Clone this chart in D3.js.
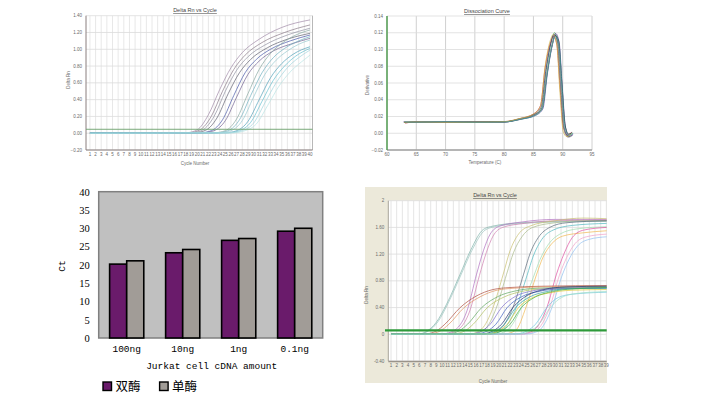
<!DOCTYPE html>
<html>
<head>
<meta charset="utf-8">
<script src="https://cdn.jsdelivr.net/npm/d3@7"></script>
<style>
  body { margin: 0; background: #fff; }
  svg { display: block; }
  .small { font-family: "Liberation Sans", Arial, sans-serif; fill: #6a6a6a; }
</style>
</head>
<body>
<svg id="chart" width="707" height="397"></svg>
<script>
// ---- bar chart (Ct vs cDNA amount) ----
const amounts = ["100ng", "10ng", "1ng", "0.1ng"];
const seriesNames = ["双酶", "单酶"];
const ctDouble = [20.2, 23.3, 26.7, 29.2];
const ctSingle = [21.1, 24.2, 27.2, 30.0];
const ctTicks = [0, 5, 10, 15, 20, 25, 30, 35, 40];

// ---- top-left amplification plot ----
const ampACycles = d3.range(1, 41);
const ampAYTicks = [-0.2, 0, 0.2, 0.4, 0.6, 0.8, 1.0, 1.2, 1.4];
const ampAThreshold = 0.047;
const ampACurves = [
  [[1,0],[18,0.005],[20,0.04],[22,0.22],[24,0.52],[26,0.78],[28,0.96],[31,1.12],[35,1.26],[40,1.35]],
  [[1,0.002],[18.5,0.005],[20.5,0.04],[22.5,0.2],[24.5,0.5],[26.5,0.76],[28.5,0.93],[31.5,1.08],[35.5,1.2],[40,1.29]],
  [[1,0],[19,0.005],[21,0.04],[23,0.2],[25,0.5],[27,0.75],[29,0.91],[32,1.05],[36,1.17],[40,1.25]],
  [[1,0.003],[19.5,0.005],[21.5,0.035],[23.5,0.18],[25.5,0.47],[27.5,0.72],[29.5,0.88],[32.5,1.02],[36,1.12],[40,1.19]],
  [[1,0],[20.5,0.005],[22.5,0.03],[24.5,0.16],[26.5,0.45],[28.5,0.72],[30.5,0.88],[33,1.0],[36.5,1.1],[40,1.17]],
  [[1,0.002],[21,0.005],[23,0.03],[25,0.15],[27,0.43],[29,0.7],[31,0.86],[33.5,0.98],[37,1.07],[40,1.13]],
  [[1,0],[23,0.005],[25,0.03],[27,0.17],[29,0.47],[31,0.76],[33,0.95],[35,1.07],[37.5,1.17],[40,1.23]],
  [[1,0.002],[23.5,0.005],[25.5,0.03],[27.5,0.16],[29.5,0.45],[31.5,0.72],[33.5,0.9],[35.5,1.01],[38,1.1],[40,1.15]],
  [[1,0],[24,0.005],[26,0.03],[28,0.15],[30,0.43],[32,0.7],[34,0.87],[36,0.98],[38,1.06],[40,1.11]],
  [[1,0.003],[25,0.005],[27,0.03],[29,0.14],[31,0.4],[33,0.66],[35,0.83],[37,0.94],[40,1.03]],
  [[1,0],[25.5,0.005],[27.5,0.03],[29.5,0.13],[31.5,0.38],[33.5,0.63],[35.5,0.8],[37.5,0.92],[40,1.01]],
  [[1,0.002],[26,0.005],[28,0.03],[30,0.12],[32,0.36],[34,0.6],[36,0.78],[38,0.9],[40,0.99]],
  [[1,0],[26.5,0.005],[28.5,0.03],[30.5,0.11],[32.5,0.33],[34.5,0.56],[36.5,0.73],[38.5,0.85],[40,0.93]]
];
const ampAColors = ["#a08aa8","#8a7a88","#9090a0","#606070","#4858a8","#706090",
                    "#88a8a0","#70b0c0","#98c8d0","#50a0b8","#68c0d0","#a0d4dc","#b8e4e4"];

// ---- top-right dissociation curve ----
const meltTicks = [60, 65, 70, 75, 80, 85, 90, 95];
const meltYTicks = [-0.02, 0, 0.02, 0.04, 0.06, 0.08, 0.10, 0.12, 0.14];
const meltCurves = [
  [[62.9,0.013],[65,0.0135],[70,0.0132],[75,0.0134],[80,0.0136],[82.7,0.017],[85.2,0.022],[86.4,0.03],[87.2,0.076],[88.05,0.109],[88.6,0.12],[89.2,0.107],[89.7,0.056],[90.3,0.004],[90.9,-0.003],[91.7,0.0]],
  [[63.1,0.012],[65,0.0138],[70,0.0128],[75,0.0136],[80,0.0139],[82.7,0.0175],[85.0,0.023],[86.2,0.033],[87.0,0.078],[87.9,0.108],[88.4,0.116],[89.0,0.106],[89.5,0.06],[90.1,0.008],[90.8,-0.002],[91.5,0.001]],
  [[62.8,0.0135],[65,0.0132],[70,0.0136],[75,0.013],[80,0.0134],[82.9,0.0168],[85.4,0.0215],[86.6,0.029],[87.4,0.072],[88.25,0.106],[88.8,0.119],[89.4,0.108],[89.9,0.058],[90.5,0.006],[91.1,-0.004],[91.8,-0.001]],
  [[63,0.0128],[65,0.0134],[70,0.0133],[75,0.0137],[80,0.0133],[82.6,0.0172],[85.1,0.0225],[86.3,0.031],[87.1,0.074],[87.95,0.107],[88.5,0.118],[89.1,0.109],[89.6,0.062],[90.2,0.007],[90.9,-0.004],[91.7,-0.002]],
  [[62.9,0.0132],[65,0.013],[70,0.0135],[75,0.0133],[80,0.0137],[82.8,0.0169],[85.3,0.0222],[86.5,0.03],[87.3,0.07],[88.15,0.104],[88.7,0.117],[89.3,0.11],[89.8,0.065],[90.4,0.01],[91.0,-0.001],[91.6,0.001]],
  [[63.2,0.0136],[65,0.0131],[70,0.0134],[75,0.0135],[80,0.0135],[82.7,0.0171],[85.2,0.0218],[86.4,0.028],[87.2,0.068],[88.1,0.103],[88.6,0.114],[89.2,0.104],[89.7,0.055],[90.3,0.003],[90.9,-0.005],[91.6,-0.003]],
  [[62.9,0.0129],[65,0.0136],[70,0.013],[75,0.0132],[80,0.0138],[82.5,0.0174],[85.0,0.0228],[86.2,0.032],[87.0,0.08],[87.85,0.11],[88.4,0.118],[89.0,0.105],[89.5,0.052],[90.1,0.002],[90.7,-0.004],[91.5,-0.001]],
  [[63,0.0134],[65,0.0133],[70,0.0137],[75,0.0131],[80,0.0134],[82.8,0.0166],[85.3,0.0212],[86.5,0.029],[87.35,0.071],[88.2,0.105],[88.75,0.116],[89.35,0.107],[89.85,0.06],[90.45,0.005],[91.05,-0.002],[91.7,0.0]]
];
const meltColors = ["#40a040","#c03030","#6040a0","#303080","#202020","#a0a0a0","#d0b040","#40a0a0"];

// ---- bottom-right amplification plot ----
const ampBCycles = d3.range(1, 40);
const ampBYTicks = [-0.4, 0, 0.4, 0.8, 1.2, 1.6, 2.0];
const ampBYLabels = ["-0.40", "0", "0.40", "0.80", "1.20", "1.60", "2"];
const ampBThreshold = 0.06;
const ampBCurves = [
  [[1,0],[6,0.005],[7.3,0.045],[9,0.18],[10.8,0.45],[13.2,0.9],[15,1.25],[17.3,1.57],[19,1.62],[24,1.67],[30,1.69],[39.1,1.7]],
  [[1,0.004],[6.3,0.008],[7.6,0.05],[9.3,0.19],[11.1,0.47],[13.5,0.92],[15.3,1.26],[17.6,1.56],[19.3,1.61],[24,1.66],[30,1.68],[39.1,1.69]],
  [[1,0],[10,0.005],[12,0.05],[14.4,0.35],[16.1,0.9],[17.3,1.25],[18.5,1.5],[20.2,1.62],[24,1.68],[30,1.72],[39.1,1.72]],
  [[1,0.002],[10.5,0.006],[12.5,0.05],[14.9,0.35],[16.6,0.88],[17.8,1.22],[19,1.47],[20.7,1.6],[24.5,1.66],[30,1.7],[39.1,1.71]],
  [[1,0],[15,0.005],[17,0.08],[19,0.4],[20.8,0.9],[22,1.25],[23.5,1.5],[25.5,1.62],[30,1.7],[35,1.74],[39.1,1.73]],
  [[1,0.003],[15.5,0.006],[17.5,0.07],[19.6,0.4],[21.4,0.9],[22.6,1.22],[24.1,1.46],[26,1.6],[30,1.67],[35,1.7],[39.1,1.7]],
  [[1,0],[18,0.005],[20,0.06],[22.5,0.4],[24.4,0.9],[25.5,1.2],[27,1.45],[29,1.6],[32,1.67],[39.1,1.7]],
  [[1,0.002],[18.6,0.006],[20.6,0.06],[23.1,0.4],[25,0.88],[26.1,1.17],[27.6,1.42],[29.6,1.56],[33,1.63],[39.1,1.66]],
  [[1,0],[19.5,0.005],[21.5,0.06],[24,0.4],[26.1,0.85],[27.3,1.12],[28.8,1.35],[30.8,1.5],[34,1.58],[39.1,1.61]],
  [[1,0.002],[21,0.005],[23,0.06],[24.8,0.4],[26.7,0.9],[27.8,1.15],[29.3,1.35],[31.3,1.47],[35,1.52],[39.1,1.55]],
  [[1,0],[24,0.005],[26,0.05],[28.5,0.4],[30.2,0.9],[31.5,1.2],[33,1.45],[35,1.56],[39.1,1.6]],
  [[1,0.003],[24.5,0.006],[26.5,0.05],[29,0.4],[30.7,0.88],[32,1.15],[33.5,1.36],[35.5,1.46],[39.1,1.5]],
  [[1,0],[25,0.005],[27,0.05],[29.4,0.4],[31.1,0.86],[32.4,1.12],[33.9,1.32],[35.9,1.42],[39.1,1.46]],
  [[1,0],[7,0.005],[9,0.05],[10.5,0.15],[13.2,0.4],[16,0.57],[19,0.67],[22,0.7],[28,0.72],[39.1,0.73]],
  [[1,0.003],[7.7,0.006],[9.7,0.05],[11.2,0.15],[13.9,0.4],[16.7,0.56],[19.7,0.66],[22.7,0.69],[28,0.71],[39.1,0.72]],
  [[1,0],[11,0.005],[13,0.05],[14.5,0.15],[17,0.4],[20,0.57],[23,0.65],[27,0.69],[39.1,0.71]],
  [[1,0.002],[12,0.006],[14,0.05],[15.5,0.15],[18,0.4],[21,0.56],[24,0.64],[28,0.68],[39.1,0.7]],
  [[1,0],[15,0.005],[17,0.05],[18.5,0.15],[20.5,0.4],[23,0.57],[26,0.65],[30,0.69],[39.1,0.7]],
  [[1,0.003],[16,0.006],[18,0.05],[19.5,0.15],[21.5,0.4],[24,0.56],[27,0.64],[31,0.68],[39.1,0.69]],
  [[1,0],[17,0.005],[19,0.05],[20.5,0.15],[22.5,0.4],[25,0.58],[28,0.67],[32,0.71],[39.1,0.72]],
  [[1,0.002],[17.5,0.006],[19.5,0.05],[21,0.15],[23,0.4],[25.5,0.56],[28.5,0.64],[32,0.68],[39.1,0.69]],
  [[1,0],[18,0.005],[20,0.05],[21.5,0.15],[23.5,0.4],[26,0.55],[29,0.62],[33,0.66],[39.1,0.67]],
  [[1,0.002],[18.5,0.006],[20.5,0.05],[22,0.15],[24,0.4],[26.5,0.56],[29.5,0.64],[33,0.68],[39.1,0.7]],
  [[1,0],[23,0.005],[25,0.05],[26.5,0.15],[28.5,0.4],[30.5,0.55],[33,0.6],[39.1,0.63]],
  [[1,0.003],[23.6,0.006],[25.6,0.05],[27.1,0.15],[29.1,0.4],[31.1,0.55],[33.6,0.61],[39.1,0.64]]
];
const ampBColors = ["#7fb3aa","#9cc4c0","#b070c0","#d080b0","#c8c070","#a8b888","#5a6a7a","#50b8c0",
                    "#a0dcb0","#f0b850","#e050a0","#f0a0c8","#90c0f0",
                    "#b05040","#e09060","#60a860","#b0c060","#8070d0","#4060c0","#203070","#30a0a0",
                    "#e0c830","#40b040","#70c8e0","#a0e0c8"];

const svg = d3.select("#chart");

// shared frame for the three instrument screenshots
function qpcrFrame(id, x, y, xGrid, yGrid, opt) {
  const g = svg.append("g");
  const [x0, x1] = x.range();
  const [yb, yt] = y.range();
  g.append("rect").attr("x", x0).attr("y", yt).attr("width", x1 - x0).attr("height", yb - yt).attr("fill", "#fff");

  g.selectAll(".vg").data(xGrid).join("line")
    .attr("x1", d => x(d)).attr("x2", d => x(d))
    .attr("y1", yt).attr("y2", yb)
    .attr("stroke", opt.vGridColor).attr("stroke-width", 0.8);
  g.selectAll(".hg").data(yGrid).join("line")
    .attr("x1", x0).attr("x2", x1)
    .attr("y1", d => y(d)).attr("y2", d => y(d))
    .attr("stroke", "#dcdcdc").attr("stroke-width", 0.8);

  g.selectAll(".xl").data(opt.xLabels).join("text").attr("class", "small")
    .attr("x", d => x(d)).attr("y", yb + 6)
    .attr("text-anchor", "middle").attr("font-size", 4.5)
    .text(d => d);
  g.selectAll(".yl").data(yGrid).join("text").attr("class", "small")
    .attr("x", x0 - 4).attr("y", d => y(d) + 1.5)
    .attr("text-anchor", "end").attr("font-size", 4.5)
    .text((d, i) => opt.yFormat(d, i));

  g.append("clipPath").attr("id", id)
    .append("rect").attr("x", x0).attr("y", yt).attr("width", x1 - x0).attr("height", yb - yt);
  return g;
}

function drawCurves(g, id, x, y, curves, colors, width) {
  const line = d3.line().x(d => x(d[0])).y(d => y(d[1])).curve(d3.curveMonotoneX);
  g.append("g").attr("clip-path", `url(#${id})`)
    .selectAll("path").data(curves).join("path")
    .attr("d", line).attr("fill", "none")
    .attr("stroke", (d, i) => colors[i % colors.length])
    .attr("stroke-width", width);
}

function labels(g, t) {
  g.append("text").attr("class", "small").attr("x", t.tx).attr("y", t.ty)
    .attr("text-anchor", "middle").attr("font-size", 5.5).style("fill", "#444")
    .attr("text-decoration", "underline").text(t.title);
  g.append("text").attr("class", "small").attr("x", t.xx).attr("y", t.xy)
    .attr("text-anchor", "middle").attr("font-size", 4.5).text(t.xTitle);
  g.append("text").attr("class", "small")
    .attr("transform", `translate(${t.yx},${t.yy}) rotate(-90)`)
    .attr("text-anchor", "middle").attr("font-size", 4.5).text(t.yTitle);
}

// ---------- panel A: top-left amplification ----------
{
  const x = d3.scaleLinear().domain([0.3, 40.45]).range([86, 312.5]);
  const y = d3.scaleLinear().domain([-0.2, 1.4]).range([150, 15.7]);
  const g = qpcrFrame("clipA", x, y, ampACycles, ampAYTicks, {
    vGridColor: "#e2e2e2", xLabels: ampACycles, yFormat: d => d3.format(".2f")(d)
  });
  g.append("line").attr("x1", 312.5).attr("x2", 312.5).attr("y1", 15.7).attr("y2", 150).attr("stroke", "#b8b8b8");
  g.append("line").attr("x1", 86).attr("x2", 86).attr("y1", 15.7).attr("y2", 150).attr("stroke", "#8a7e7e").attr("stroke-width", 1);
  g.append("line").attr("x1", 86).attr("x2", 312.5).attr("y1", 150).attr("y2", 150).attr("stroke", "#8a7e7e").attr("stroke-width", 1.2);
  drawCurves(g, "clipA", x, y, ampACurves, ampAColors, 0.7);
  g.append("line").attr("x1", 86).attr("x2", 312.5)
    .attr("y1", y(ampAThreshold)).attr("y2", y(ampAThreshold))
    .attr("stroke", "#6aa06a").attr("stroke-width", 0.9);
  labels(g, { title: "Delta Rn vs Cycle", tx: 195, ty: 12, xTitle: "Cycle Number", xx: 195, xy: 165,
              yTitle: "Delta Rn", yx: 70, yy: 80 });
}

// ---------- panel B: dissociation curve ----------
{
  const x = d3.scaleLinear().domain([60, 95]).range([387, 592]);
  const y = d3.scaleLinear().domain([-0.02, 0.14]).range([150, 16]);
  const g = qpcrFrame("clipM", x, y, meltTicks, meltYTicks, {
    vGridColor: "#c4c4c4", xLabels: meltTicks, yFormat: d => d3.format(".2f")(d)
  });
  g.append("line").attr("x1", 387).attr("x2", 592).attr("y1", 150).attr("y2", 150).attr("stroke", "#a0a0a0").attr("stroke-width", 1.5);
  g.append("line").attr("x1", 387).attr("x2", 387).attr("y1", 16).attr("y2", 150).attr("stroke", "#4a9a4a").attr("stroke-width", 1.4);
  drawCurves(g, "clipM", x, y, meltCurves, meltColors, 0.7);
  labels(g, { title: "Dissociation Curve", tx: 487, ty: 13, xTitle: "Temperature (C)", xx: 485, xy: 164,
              yTitle: "Derivative", yx: 369, yy: 85 });
}

// ---------- panel D: bottom-right amplification ----------
{
  svg.append("rect").attr("x", 365).attr("y", 187).attr("width", 242).attr("height", 196).attr("fill", "#ece9da");
  const x = d3.scaleLinear().domain([0.52, 39.06]).range([388.3, 606.7]);
  const y = d3.scaleLinear().domain([-0.4, 2.0]).range([361, 200.7]);
  const g = qpcrFrame("clipB", x, y, ampBCycles, ampBYTicks, {
    vGridColor: "#dedede", xLabels: ampBCycles, yFormat: (d, i) => ampBYLabels[i]
  });
  g.append("line").attr("x1", 388.3).attr("x2", 388.3).attr("y1", 200.7).attr("y2", 361).attr("stroke", "#a8a49a").attr("stroke-width", 1);
  g.append("line").attr("x1", 388.3).attr("x2", 606.7).attr("y1", 361.5).attr("y2", 361.5).attr("stroke", "#9a948a").attr("stroke-width", 1.5);
  drawCurves(g, "clipB", x, y, ampBCurves, ampBColors, 0.7);
  g.append("line").attr("x1", 385).attr("x2", 606.7)
    .attr("y1", y(ampBThreshold)).attr("y2", y(ampBThreshold))
    .attr("stroke", "#2e9a3a").attr("stroke-width", 2.2);
  labels(g, { title: "Delta Rn vs Cycle", tx: 495, ty: 197, xTitle: "Cycle Number", xx: 493, xy: 383,
              yTitle: "Delta Rn", yx: 368, yy: 295 });
}

// ---------- panel C: Ct bar chart ----------
{
  const left = 98.7, right = 322.7, top = 191.7, bottom = 338;
  const x0 = d3.scaleBand().domain(amounts).range([left, right]).paddingInner(0.39).paddingOuter(0.195);
  const x1 = d3.scaleBand().domain(seriesNames).range([0, x0.bandwidth()]);
  const y = d3.scaleLinear().domain([0, 40]).range([bottom, top]);
  const color = d3.scaleOrdinal().domain(seriesNames).range(["#6a1b6b", "#a19c97"]);
  const rows = amounts.map((a, i) => ({ amount: a, values: [ctDouble[i], ctSingle[i]] }));

  const g = svg.append("g");
  g.append("rect").attr("x", left).attr("y", top).attr("width", right - left).attr("height", bottom - top)
    .attr("fill", "#c0c0c0").attr("stroke", "#808080").attr("stroke-width", 1.5);

  g.selectAll(".grp").data(rows).join("g")
    .attr("transform", d => `translate(${x0(d.amount)},0)`)
    .selectAll("rect").data(d => d.values.map((v, j) => ({ name: seriesNames[j], v })))
    .join("rect")
    .attr("x", d => x1(d.name)).attr("width", x1.bandwidth())
    .attr("y", d => y(d.v)).attr("height", d => y(0) - y(d.v))
    .attr("fill", d => color(d.name)).attr("stroke", "#000").attr("stroke-width", 1.6);

  const ya = g.append("g").attr("transform", `translate(${left},0)`)
    .call(d3.axisLeft(y).tickValues(ctTicks).tickSize(0).tickPadding(9));
  ya.select(".domain").remove();
  ya.selectAll("text").attr("font-family", "'Liberation Serif', serif").attr("font-size", 10.5).attr("fill", "#000");

  const xa = g.append("g").attr("transform", `translate(0,${bottom})`)
    .call(d3.axisBottom(x0).tickSize(0).tickPadding(7));
  xa.select(".domain").remove();
  xa.selectAll("text").attr("font-family", "'Liberation Mono', monospace").attr("font-size", 9.5).attr("fill", "#000");

  g.append("text").attr("x", 211.7).attr("y", 368.5).attr("text-anchor", "middle")
    .attr("font-family", "'Liberation Mono', monospace").attr("font-size", 9.5).text("Jurkat cell cDNA amount");
  g.append("text").attr("transform", "translate(65,266) rotate(-90)").attr("text-anchor", "middle")
    .attr("font-family", "'Liberation Mono', monospace").attr("font-size", 9.5).text("Ct");

  const leg = g.selectAll(".leg").data(seriesNames).join("g")
    .attr("transform", (d, i) => `translate(${103 + i * 56.6},382)`);
  leg.append("rect").attr("width", 8.5).attr("height", 8.5)
    .attr("fill", d => color(d)).attr("stroke", "#000").attr("stroke-width", 1.4);
  leg.append("text").attr("x", 12.5).attr("y", 8.8)
    .attr("font-family", "'Noto Sans CJK SC', sans-serif").attr("font-size", 12.5).attr("fill", "#000")
    .text(d => d);
}
</script>
</body>
</html>
